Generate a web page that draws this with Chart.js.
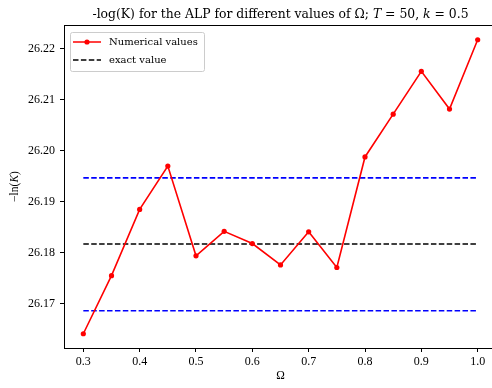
<!DOCTYPE html>
<html lang="en">
<head>
  <meta charset="UTF-8" />
  <title>-log(K) for the ALP</title>
  <script src="https://cdn.jsdelivr.net/npm/chart.js@4.4.1/dist/chart.umd.min.js"></script>
  <style>
    body {
      margin: 0;
      background: #fff;
    }

    .chart-container {
      width: 492px;
      height: 388px;
      overflow: hidden;
      position: relative;
    }

    canvas {
      display: block;
    }
  </style>
</head>
<body>
  <div class="chart-container">
    <canvas id="alp" width="520" height="388"></canvas>
  </div>
  <script>
    // Omega values and the numerical -ln(K) at each
    const omega = [0.3, 0.35, 0.4, 0.45, 0.5, 0.55, 0.6, 0.65, 0.7, 0.75, 0.8, 0.85, 0.9, 0.95, 1.0];
    const negLogK = [26.1641, 26.1755, 26.1885, 26.1970, 26.1794, 26.1842, 26.1818, 26.1776,
      26.1841, 26.1771, 26.1988, 26.2072, 26.2156, 26.2082, 26.2218];

    // exact value and the band around it
    const exactValue = 26.1817;
    const bandUpper = 26.1947;
    const bandLower = 26.1686;

    const xTicks = [0.3, 0.4, 0.5, 0.6, 0.7, 0.8, 0.9, 1.0];
    const yTicks = [26.17, 26.18, 26.19, 26.20, 26.21, 26.22];

    const serif = "'Liberation Serif', 'DejaVu Serif', serif";
    const wideSerif = "'DejaVu Serif', serif";

    const hline = v => [{ x: omega[0], y: v }, { x: omega[omega.length - 1], y: v }];

    // draws a run of [text, italic] pieces starting at x
    function drawPieces(ctx, pieces, x, y, font) {
      pieces.forEach(([t, it]) => {
        ctx.font = (it ? 'italic ' : '') + font;
        ctx.fillText(t, x, y);
        x += ctx.measureText(t).width;
      });
    }
    function piecesWidth(ctx, pieces, font) {
      let w = 0;
      pieces.forEach(([t, it]) => {
        ctx.font = (it ? 'italic ' : '') + font;
        w += ctx.measureText(t).width;
      });
      return w;
    }

    const decorations = {
      id: 'decorations',
      afterDraw(chart) {
        const { ctx, chartArea } = chart;
        ctx.save();

        // top spine
        ctx.strokeStyle = '#000';
        ctx.lineWidth = 1;
        ctx.beginPath();
        ctx.moveTo(chartArea.left, chartArea.top + 0.5);
        ctx.lineTo(chartArea.right, chartArea.top + 0.5);
        ctx.stroke();

        ctx.fillStyle = '#000';
        ctx.textBaseline = 'alphabetic';

        // title
        const title = [['-log(K) for the ALP for different values of \u03A9; ', false], ['T', true],
          [' = 50, ', false], ['k', true], [' = 0.5', false]];
        const tf = '12.4px ' + wideSerif;
        const tw = piecesWidth(ctx, title, tf);
        const cx = (chartArea.left + chartArea.right) / 2;
        drawPieces(ctx, title, cx - tw / 2, 18, tf);

        // y axis label
        const ylab = [['\u2212ln(', false], ['K', true], [')', false]];
        const yf = '11.5px ' + serif;
        ctx.translate(18, (chartArea.top + chartArea.bottom) / 2);
        ctx.rotate(-Math.PI / 2);
        drawPieces(ctx, ylab, -piecesWidth(ctx, ylab, yf) / 2, 0, yf);
        ctx.restore();

        // legend
        ctx.save();
        const bx = 70, by = 32, bw = 134, bh = 39;
        ctx.beginPath();
        ctx.roundRect(bx + 0.5, by + 0.5, bw, bh, 2);
        ctx.fillStyle = 'rgba(255,255,255,0.8)';
        ctx.fill();
        ctx.strokeStyle = '#cccccc';
        ctx.lineWidth = 1;
        ctx.stroke();

        const items = chart.data.datasets.slice(0, 2);
        items.forEach((ds, i) => {
          const ry = 42 + i * 18;
          ctx.strokeStyle = ds.borderColor;
          ctx.lineWidth = 1.5;
          ctx.setLineDash(ds.borderDash || []);
          ctx.beginPath();
          ctx.moveTo(73, ry);
          ctx.lineTo(101, ry);
          ctx.stroke();
          ctx.setLineDash([]);
          if (ds.pointRadius > 0) {
            ctx.fillStyle = ds.pointBackgroundColor;
            ctx.beginPath();
            ctx.arc(87, ry, ds.pointRadius, 0, Math.PI * 2);
            ctx.fill();
          }
          ctx.fillStyle = '#000';
          ctx.font = '10px ' + wideSerif;
          ctx.textBaseline = 'middle';
          ctx.fillText(ds.label, 109, ry + 0.5);
        });
        ctx.restore();
      }
    };

    new Chart(document.getElementById('alp'), {
      type: 'line',
      data: {
        datasets: [{
          label: 'Numerical values',
          data: omega.map((x, i) => ({ x: x, y: negLogK[i] })),
          borderColor: '#ff0000',
          backgroundColor: '#ff0000',
          pointBackgroundColor: '#ff0000',
          pointBorderWidth: 0,
          pointRadius: 2.6,
          borderWidth: 1.6,
          tension: 0
        }, {
          label: 'exact value',
          data: hline(exactValue),
          borderColor: '#000000',
          borderDash: [5.5, 2.4],
          borderWidth: 1.6,
          pointRadius: 0
        }, {
          label: 'upper',
          data: hline(bandUpper),
          borderColor: '#0000ff',
          borderDash: [5.5, 2.4],
          borderWidth: 1.6,
          pointRadius: 0
        }, {
          label: 'lower',
          data: hline(bandLower),
          borderColor: '#0000ff',
          borderDash: [5.5, 2.4],
          borderWidth: 1.6,
          pointRadius: 0
        }]
      },
      options: {
        responsive: false,
        animation: false,
        layout: {
          padding: { top: 25, right: 23, left: 0, bottom: 0 }
        },
        plugins: {
          legend: { display: false },
          tooltip: { enabled: false }
        },
        scales: {
          x: {
            type: 'linear',
            min: 0.2657,
            max: 1.0343,
            afterBuildTicks: s => { s.ticks = xTicks.map(v => ({ value: v })); },
            afterFit: s => { s.height = 40; },
            ticks: {
              callback: v => v.toFixed(1),
              color: '#000',
              padding: 3,
              maxRotation: 0,
              font: { family: serif, size: 12 }
            },
            grid: {
              drawOnChartArea: false,
              tickLength: 4,
              color: '#000'
            },
            border: { color: '#000', width: 1 },
            title: {
              display: true,
              text: '\u03A9',
              color: '#000',
              padding: { bottom: 5, top: 0 },
              font: { family: serif, size: 11.5 }
            }
          },
          y: {
            min: 26.1613,
            max: 26.2247,
            afterBuildTicks: s => { s.ticks = yTicks.map(v => ({ value: v })); },
            afterFit: s => { s.width = 64; },
            ticks: {
              callback: v => v.toFixed(2),
              color: '#000',
              padding: 5,
              font: { family: serif, size: 12 }
            },
            grid: {
              drawOnChartArea: false,
              tickLength: 4,
              color: '#000'
            },
            border: { color: '#000', width: 1 }
          }
        }
      },
      plugins: [decorations]
    });
  </script>
</body>
</html>
